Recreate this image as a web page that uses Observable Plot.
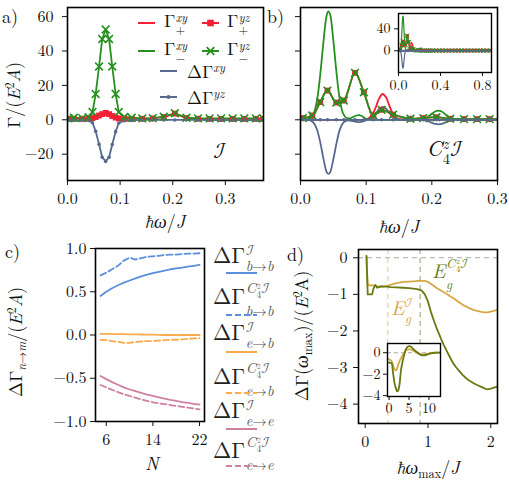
<!DOCTYPE html>
<html><head><meta charset="utf-8">
<script src="https://cdn.jsdelivr.net/npm/d3@7"></script>
<script src="https://cdn.jsdelivr.net/npm/@observablehq/plot@0.6"></script>
<style>
html,body{margin:0;padding:0;background:#fff;}
#root{position:relative;width:509px;height:482px;overflow:hidden;font-family:"Latin Modern Roman","Liberation Serif",serif;color:#111;background:#fff;}
.t{position:absolute;white-space:nowrap;line-height:1;}
.ss{display:inline-flex;flex-direction:column;vertical-align:middle;font-size:0.66em;line-height:1.05;margin-left:0.04em;}
.ss .ss{line-height:0.95;}
.up{margin-bottom:0.3em;}
.cal{font-family:"Latin Modern Math","DejaVu Serif",serif;font-style:normal;}
sup{font-size:0.68em;vertical-align:0.5em;line-height:0;}
sub{font-size:0.68em;vertical-align:-0.3em;line-height:0;}
.sw{position:absolute;overflow:visible;}
</style></head><body><div id="root"></div>
<script>
// ---------- data: panel a (inversion symmetric, I) ----------
const aOmega      = [0.002,0.012,0.028,0.040,0.0475,0.0535,0.060,0.066,0.0725,0.079,0.085,0.0915,0.0975,0.108,0.122,0.142,0.162,0.183,0.204,0.226,0.248,0.270,0.292,0.314,0.336,0.358,0.372];
const aGammaMinus = [0.8,1.2,1.0,1.5,4.5,15,31,47,52.5,47,31,15,4.5,1.6,1.2,0.8,1.0,1.8,3.8,1.2,0.8,0.8,0.8,0.8,0.8,0.8,0.8];
const aGammaPlus  = [0.5,0.6,0.6,0.8,1.0,1.6,2.5,3.3,4.0,3.3,2.2,1.3,0.8,0.6,0.5,0.6,0.8,1.6,3.6,1.0,0.6,0.5,0.5,0.5,0.5,0.5,0.5];
const aDelta      = [-0.15,-0.3,-0.2,-0.35,-1.75,-6.7,-14.2,-21.8,-24.2,-21.8,-14.4,-6.9,-1.85,-0.5,-0.35,-0.1,-0.1,-0.1,-0.1,-0.1,-0.1,-0.15,-0.15,-0.15,-0.15,-0.15,-0.15];
const aXTicks = [0, 0.1, 0.2, 0.3];
const aYTicks = [-20, 0, 20, 40, 60];

// ---------- data: panel b (C4z I), xy curves ----------
const bOmega = [0,0.01,0.015,0.02,0.025,0.03,0.035,0.04,0.0425,0.045,0.05,0.055,0.06,0.065,0.07,0.075,0.08,0.085,0.09,0.095,0.1,0.105,0.11,0.115,0.12,0.125,0.13,0.135,0.14,0.145,0.15,0.16,0.18,0.19,0.195,0.2,0.205,0.21,0.215,0.22,0.225,0.23,0.24,0.26,0.3,0.4,0.5,0.6,0.7,0.8,0.89];
const bGammaMinusXY = [0,0.1,0.85,3.5,11,26,45.5,61,63,61.5,46,26.7,11.3,3.6,1.0,0.8,1.6,2.5,2.7,1.8,0.6,0.1,0,0,0,0,0,0,0,0,0,0,0,0.8,2.0,3.5,4.8,5.3,4.8,3.3,1.8,0.7,0.1,0,0,0,0,0,0,0,0];
const bGammaPlusXY  = [0,0,0,0,0,0,0,0,0,0,0,0,0,0,0,0,0,0,0,0,0.3,1.2,3.5,7.7,12.6,15,13.2,8.5,4,1.4,0.4,0,0,0,0,0,0,0,0,0,0,0,0,0,0,0,0,0,0,0,0];
const bDeltaXY      = [0,-0.05,-0.4,-1.75,-5.5,-13,-22.7,-30.5,-31.5,-30.7,-23,-13.3,-5.6,-1.8,-0.5,-0.4,-0.8,-1.25,-1.35,-0.9,-0.15,0.55,1.75,3.85,6.3,7.5,6.6,4.25,2,0.7,0.2,0,0,-0.4,-1,-1.75,-2.4,-2.65,-2.4,-1.65,-0.9,-0.35,-0.05,0,0,0,0,0,0,0,0];
// panel b, yz curves (markers)
const bMarkOmega = [0.0035,0.018,0.030,0.041,0.0545,0.066,0.083,0.0965,0.111,0.1235,0.141,0.1675,0.187,0.207,0.228,0.249,0.269,0.288,0.308,0.33,0.36,0.39,0.42,0.45,0.48,0.51,0.54,0.57,0.6,0.63,0.66,0.69,0.72,0.75,0.78,0.81,0.84,0.87];
const bGammaYZ   = [1,2.5,10.3,17,10,11.2,27.3,16,2.5,5.8,3,0.6,1.0,1.5,0.6,0.4,0.4,0.4,0.4,0.4,0.4,0.4,0.4,0.4,0.4,0.4,0.4,0.4,0.4,0.4,0.4,0.4,0.4,0.4,0.4,0.4,0.4,0.4];
const bDeltaYZ   = [0,0,0,0,0,0,0,0,0,0,0,0,0,0,0,0,0,0,0,0,0,0,0,0,0,0,0,0,0,0,0,0,0,0,0,0,0,0];
const bXTicks = [0, 0.1, 0.2, 0.3];
const bInsetXTicks = [0, 0.4, 0.8];
const bInsetYTicks = [0, 40];

// ---------- data: panel c ----------
const cN    = [5,6,7,8,9,10,11,12,13,14,15,16,17,18,19,20,21,22];
const cBbI  = [0.45,0.50,0.54,0.575,0.605,0.63,0.655,0.677,0.697,0.715,0.73,0.745,0.76,0.77,0.78,0.79,0.80,0.81];
const cBbC4 = [0.69,0.72,0.76,0.80,0.86,0.895,0.872,0.89,0.905,0.91,0.915,0.925,0.93,0.93,0.935,0.94,0.94,0.945];
const cEbI  = [0.012,0.012,0.011,0.01,0.01,0.008,0.007,0.006,0.005,0.004,0.002,0.0,0.0,-0.002,0.0,0.0,0.0,0.0];
const cEbC4 = [-0.055,-0.06,-0.07,-0.08,-0.09,-0.09,-0.08,-0.075,-0.07,-0.07,-0.065,-0.06,-0.055,-0.055,-0.05,-0.045,-0.04,-0.035];
const cEeI  = [-0.473,-0.51,-0.545,-0.575,-0.605,-0.63,-0.65,-0.67,-0.69,-0.705,-0.72,-0.735,-0.75,-0.762,-0.775,-0.785,-0.795,-0.805];
const cEeC4 = [-0.578,-0.605,-0.635,-0.66,-0.685,-0.705,-0.725,-0.745,-0.762,-0.778,-0.79,-0.80,-0.81,-0.82,-0.83,-0.84,-0.85,-0.86];
const cXTicks = [6, 14, 22];
const cYTicks = [-1, -0.5, 0, 0.5, 1];

// ---------- data: panel d ----------
const dOmega = [0.02,0.03,0.04,0.06,0.09,0.11,0.13,0.16,0.19,0.22,0.26,0.3,0.35,0.4,0.5,0.6,0.7,0.8,0.86,0.9,0.95,1.0,1.05,1.1,1.15,1.2,1.25,1.3,1.35,1.4,1.45,1.5,1.55,1.6,1.65,1.7,1.75,1.8,1.85,1.9,1.95,2.0,2.05,2.11];
const dC4 = [0.05,-0.5,-1.0,-1.0,-1.0,-1.0,-0.85,-0.74,-0.82,-0.80,-0.78,-0.79,-0.79,-0.80,-0.81,-0.82,-0.83,-0.85,-0.87,-0.9,-1.0,-1.2,-1.5,-1.75,-1.98,-2.18,-2.38,-2.55,-2.72,-2.88,-3.0,-3.1,-3.2,-3.28,-3.35,-3.4,-3.45,-3.49,-3.53,-3.57,-3.6,-3.58,-3.55,-3.52];
const dI  = [0.05,-0.4,-0.72,-0.75,-0.76,-0.75,-0.76,-0.77,-0.78,-0.78,-0.78,-0.78,-0.77,-0.74,-0.69,-0.66,-0.65,-0.64,-0.63,-0.63,-0.63,-0.66,-0.72,-0.78,-0.84,-0.89,-0.94,-0.99,-1.05,-1.1,-1.16,-1.22,-1.28,-1.33,-1.37,-1.41,-1.44,-1.46,-1.48,-1.49,-1.49,-1.47,-1.45,-1.42];
const dGapI = [0.36];
const dGapC4 = [0.875];
const dZero = [0];
const dXTicks = [0, 1, 2];
const dYTicks = [-4, -3, -2, -1, 0];
// inset d
const diOmega = [-0.1,0.3,0.6,1.0,1.4,1.7,2.0,2.3,2.6,3.0,3.4,3.8,4.3,5.0,5.5,6.0,7.0,8.0,8.7,9.5,10.5,11.5,12.9];
const diC4 = [-0.9,-0.95,-0.95,-1.9,-2.9,-3.3,-3.6,-3.5,-3.0,-1.6,-0.8,-0.2,0.4,0.62,0.55,0.38,0.05,-0.2,-0.25,-0.18,-0.05,0.0,0.0];
const diI  = [-0.6,-0.68,-0.75,-1.2,-1.55,-1.65,-1.45,-1.1,-0.8,-0.5,-0.25,0.0,0.25,0.32,0.3,0.2,0.0,-0.15,-0.15,-0.1,-0.03,0.0,0.0];
const diXTicks = [0, 5, 10];
const diYTicks = [-4, -2, 0];

// ---------- colours ----------
const RED = "#f81e33", GREEN = "#26901f", SLATE = "#56698e";
const CB = "#5b8fdb", CO = "#fbab4c", CP = "#cf7f9f";
const OLIVE = "#687a10", GOLD = "#d5a843";

const root = document.getElementById("root");
const fmt1 = d3.format(".1f");
const fmtInt = d3.format("d");
const FONT = '"Latin Modern Roman", "Liberation Serif", serif';
const baseStyle = (fs) => ({fontFamily: FONT, fontSize: fs + "px", background: "transparent", overflow: "visible", color: "#111"});
function place(svg, left, top) {
  svg.style.position = "absolute"; svg.style.left = left + "px"; svg.style.top = top + "px";
  root.appendChild(svg);
}
function txt(html, x, y, o = {}) {
  const d = document.createElement("div");
  d.className = "t"; d.innerHTML = html;
  d.style.left = x + "px"; d.style.top = y + "px";
  d.style.fontSize = (o.size || 17) + "px";
  if (o.color) d.style.color = o.color;
  const ax = o.ax === undefined ? -50 : o.ax;
  d.style.transform = `translate(${ax}%, -50%)` + (o.rot ? " rotate(-90deg)" : "");
  root.appendChild(d);
}
function swatch(x, y, w, color, o = {}) {
  const s = document.createElementNS("http://www.w3.org/2000/svg", "svg");
  s.setAttribute("class", "sw"); s.setAttribute("width", w); s.setAttribute("height", 12);
  s.style.left = x + "px"; s.style.top = (y - 6) + "px";
  let h = `<line x1="0" y1="6" x2="${w}" y2="6" stroke="${color}" stroke-width="${o.sw || 2}" ${o.dash ? `stroke-dasharray="${o.dash}"` : ""}/>`;
  const c = w / 2;
  if (o.marker === "square") h += `<rect x="${c-3.3}" y="2.7" width="6.6" height="6.6" fill="${color}"/>`;
  if (o.marker === "x") h += `<path d="M${c-3.8},2.2L${c+3.8},9.8M${c-3.8},9.8L${c+3.8},2.2" stroke="${color}" stroke-width="1.8"/>`;
  if (o.marker === "dot") h += `<circle cx="${c}" cy="6" r="2" fill="${color}"/>`;
  s.innerHTML = h;
  root.appendChild(s);
}

// ---------- panel a ----------
const A = aOmega.map((w, i) => ({w, gp: aGammaPlus[i], gm: aGammaMinus[i], d: aDelta[i]}));
place(Plot.plot({
  width: 270, height: 215, marginLeft: 67, marginRight: 7, marginTop: 7, marginBottom: 35,
  style: baseStyle(16),
  x: {domain: [0, 0.3725]}, y: {domain: [-35.3, 65.3]},
  marks: [
    Plot.axisX({ticks: aXTicks, tickFormat: fmt1, tickSize: 5, tickPadding: 7, label: null}),
    Plot.axisY({ticks: aYTicks, tickFormat: fmtInt, tickSize: 5, tickPadding: 9, label: null}),
    Plot.line(A, {x: "w", y: "gp", stroke: RED, strokeWidth: 1.8, clip: true}),
    Plot.line(A, {x: "w", y: "gm", stroke: GREEN, strokeWidth: 1.8, clip: true}),
    Plot.line(A, {x: "w", y: "d", stroke: SLATE, strokeWidth: 1.8, clip: true}),
    Plot.dot(A, {x: "w", y: "gp", symbol: "square", fill: RED, r: 3.3, clip: true}),
    Plot.dot(A, {x: "w", y: "gm", symbol: "times", stroke: GREEN, strokeWidth: 1.6, r: 3.6, clip: true}),
    Plot.dot(A, {x: "w", y: "d", fill: SLATE, r: 1.8, clip: true}),
    Plot.frame({stroke: "#000", strokeWidth: 1.6})
  ]
}), 0, 0);

// ---------- panel b ----------
const B = bOmega.map((w, i) => ({w, gm: bGammaMinusXY[i], gp: bGammaPlusXY[i], d: bDeltaXY[i]}));
const BM = bMarkOmega.map((w, i) => ({w, g: bGammaYZ[i], d: bDeltaYZ[i]}));
function bMarks(lw, ms) {
  return [
    Plot.line(B, {x: "w", y: "gp", stroke: RED, strokeWidth: lw, curve: "catmull-rom", clip: true}),
    Plot.line(B, {x: "w", y: "gm", stroke: GREEN, strokeWidth: lw, curve: "catmull-rom", clip: true}),
    Plot.line(B, {x: "w", y: "d", stroke: SLATE, strokeWidth: lw, curve: "catmull-rom", clip: true}),
    Plot.line(BM, {x: "w", y: "g", stroke: RED, strokeWidth: lw, curve: "catmull-rom", clip: true}),
    Plot.dot(BM, {x: "w", y: "g", symbol: "square", fill: RED, r: 3.3 * ms, clip: true}),
    Plot.line(BM, {x: "w", y: "g", stroke: GREEN, strokeWidth: lw, curve: "catmull-rom", clip: true}),
    Plot.dot(BM, {x: "w", y: "g", symbol: "times", stroke: GREEN, strokeWidth: 1.6 * ms, r: 3.6 * ms, clip: true}),
    Plot.line(BM, {x: "w", y: "d", stroke: SLATE, strokeWidth: lw, clip: true}),
    Plot.dot(BM, {x: "w", y: "d", fill: SLATE, r: 1.8 * ms, clip: true})
  ];
}
place(Plot.plot({
  width: 239, height: 215, marginLeft: 30, marginRight: 12, marginTop: 7, marginBottom: 35,
  style: baseStyle(16),
  x: {domain: [0, 0.3]}, y: {domain: [-35.3, 65.3]},
  marks: [
    Plot.axisX({ticks: bXTicks, tickFormat: fmt1, tickSize: 5, tickPadding: 7, label: null}),
    Plot.axisY({ticks: aYTicks, tickSize: 5, tickFormat: () => "", label: null}),
    ...bMarks(1.8, 1),
    Plot.frame({stroke: "#000", strokeWidth: 1.6})
  ]
}), 270, 0);

// inset b
place(Plot.plot({
  width: 125, height: 94, marginLeft: 30, marginRight: 2, marginTop: 13, marginBottom: 22,
  style: baseStyle(14),
  x: {domain: [0, 0.886]}, y: {domain: [-39.5, 67.8]},
  marks: [
    Plot.frame({fill: "#fff", stroke: null}),
    Plot.axisX({ticks: bInsetXTicks, tickFormat: fmt1, tickSize: 4, tickPadding: 4, label: null}),
    Plot.axisY({ticks: bInsetYTicks, tickFormat: fmtInt, tickSize: 4, tickPadding: 4, label: null}),
    ...bMarks(1.2, 0.6),
    Plot.frame({stroke: "#000", strokeWidth: 1.4})
  ]
}), 368, 0);

// ---------- panel c ----------
const C = cN.map((n, i) => ({n, bbI: cBbI[i], bbC: cBbC4[i], ebI: cEbI[i], ebC: cEbC4[i], eeI: cEeI[i], eeC: cEeC4[i]}));
place(Plot.plot({
  width: 175, height: 220, marginLeft: 55, marginRight: 11, marginTop: 12, marginBottom: 35,
  style: baseStyle(16),
  x: {domain: [4.15, 22.85]}, y: {domain: [-1, 1]},
  marks: [
    Plot.axisX({ticks: cXTicks, tickFormat: fmtInt, tickSize: 5, tickPadding: 7, label: null}),
    Plot.axisY({ticks: cYTicks, tickFormat: fmt1, tickSize: 5, tickPadding: 4, label: null}),
    Plot.line(C, {x: "n", y: "bbI", stroke: CB, strokeWidth: 1.8}),
    Plot.line(C, {x: "n", y: "bbC", stroke: CB, strokeWidth: 1.8, strokeDasharray: "6,3"}),
    Plot.line(C, {x: "n", y: "ebI", stroke: CO, strokeWidth: 1.8}),
    Plot.line(C, {x: "n", y: "ebC", stroke: CO, strokeWidth: 1.8, strokeDasharray: "6,3"}),
    Plot.line(C, {x: "n", y: "eeI", stroke: CP, strokeWidth: 1.8}),
    Plot.line(C, {x: "n", y: "eeC", stroke: CP, strokeWidth: 1.8, strokeDasharray: "6,3"}),
    Plot.frame({stroke: "#000", strokeWidth: 1.6})
  ]
}), 40, 236);

// ---------- panel d ----------
const D = dOmega.map((w, i) => ({w, c4: dC4[i], i0: dI[i]}));
place(Plot.plot({
  width: 199, height: 222, marginLeft: 48, marginRight: 12, marginTop: 13, marginBottom: 35,
  style: baseStyle(16),
  x: {domain: [-0.107, 2.107]}, y: {domain: [-4.53, 0.226]},
  marks: [
    Plot.axisX({ticks: dXTicks, tickFormat: fmtInt, tickSize: 5, tickPadding: 7, label: null}),
    Plot.axisY({ticks: dYTicks, tickFormat: fmtInt, tickSize: 5, tickPadding: 6, label: null}),
    Plot.ruleY(dZero, {stroke: "#a8a8a8", strokeWidth: 1.2, strokeDasharray: "5,4"}),
    Plot.ruleX(dGapI, {stroke: "#e6d29a", strokeWidth: 1.2, strokeDasharray: "5,4"}),
    Plot.ruleX(dGapC4, {stroke: "#a8ae82", strokeWidth: 1.2, strokeDasharray: "5,4"}),
    Plot.line(D, {x: "w", y: "i0", stroke: GOLD, strokeWidth: 1.8, clip: true}),
    Plot.line(D, {x: "w", y: "c4", stroke: OLIVE, strokeWidth: 1.8, clip: true}),
    Plot.frame({stroke: "#000", strokeWidth: 1.6})
  ]
}), 310, 236);

// inset d
const DI = diOmega.map((w, i) => ({w, c4: diC4[i], i0: diI[i]}));
place(Plot.plot({
  width: 82, height: 80, marginLeft: 27, marginRight: 2, marginTop: 8, marginBottom: 19,
  style: baseStyle(14),
  x: {domain: [-0.4, 12.9]}, y: {domain: [-4.08, 0.86]},
  marks: [
    Plot.frame({fill: "#fff", stroke: null}),
    Plot.axisX({ticks: diXTicks, tickFormat: fmtInt, tickSize: 4, tickPadding: 3, label: null}),
    Plot.axisY({ticks: diYTicks, tickFormat: fmtInt, tickSize: 4, tickPadding: 3, label: null}),
    Plot.ruleY(dZero, {stroke: "#a8a8a8", strokeWidth: 1.1, strokeDasharray: "4,3"}),
    Plot.line(DI, {x: "w", y: "i0", stroke: GOLD, strokeWidth: 1.8, curve: "catmull-rom", clip: true}),
    Plot.line(DI, {x: "w", y: "c4", stroke: OLIVE, strokeWidth: 1.8, curve: "catmull-rom", clip: true}),
    Plot.frame({stroke: "#000", strokeWidth: 1.4})
  ]
}), 360, 335);

// ---------- text ----------
txt("a)", 2, 15.5, {ax: 0, size: 18});
txt("b)", 267, 16, {ax: 0, size: 18});
txt("c)", 5, 251, {ax: 0, size: 18});
txt("d)", 287, 254, {ax: 0, size: 18});
txt('Γ/(<i>E</i><sup>2</sup><i>A</i>)', 12.5, 95, {rot: true, size: 18});
txt('<i>ħω</i>/<i>J</i>', 165, 221, {size: 18});
txt('<i>ħω</i>/<i>J</i>', 399, 226, {size: 18});
txt('<span class="cal">ℐ</span>', 220, 150, {size: 22});
txt('<i>C</i><span class="ss"><i>z</i><span>4</span></span><span class="cal">ℐ</span>', 445, 151, {size: 22});
txt('ΔΓ<sub><i>n</i>→<i>m</i></sub>/(<i>E</i><sup>2</sup><i>A</i>)', 15, 342, {rot: true, size: 18});
txt('<i>N</i>', 152, 463, {size: 18});
txt('ΔΓ(<i>ω</i><sub>max</sub>)/(<i>E</i><sup>2</sup>A)', 301, 336, {rot: true, size: 18});
txt('<i>ħω</i><sub>max</sub>/<i>J</i>', 428, 467, {size: 18});
txt('<i>E</i><span class="ss"><span class="up"><i>C</i><span class="ss"><i>z</i><span>4</span></span><span class="cal">ℐ</span></span><i>g</i></span>', 432, 274, {size: 20, color: OLIVE, ax: 0});
txt('<i>E</i><span class="ss"><span class="cal">ℐ</span><i>g</i></span>', 391, 311, {size: 20, color: GOLD, ax: 0});

// legend a
const lgA = [
  {x: 138, tx: 164, y: 23, color: RED, html: 'Γ<span class="ss"><i>xy</i><span>+</span></span>'},
  {x: 202, tx: 227, y: 23, color: RED, marker: "square", html: 'Γ<span class="ss"><i>yz</i><span>+</span></span>'},
  {x: 138, tx: 164, y: 51, color: GREEN, html: 'Γ<span class="ss"><i>xy</i><span>−</span></span>'},
  {x: 202, tx: 227, y: 51, color: GREEN, marker: "x", html: 'Γ<span class="ss"><i>yz</i><span>−</span></span>'},
  {x: 160, tx: 187, y: 71, color: SLATE, html: 'ΔΓ<sup><i>xy</i></sup>'},
  {x: 160, tx: 187, y: 97, color: SLATE, marker: "dot", html: 'ΔΓ<sup><i>yz</i></sup>'}
];
for (const e of lgA) { swatch(e.x, e.y, 17, e.color, {marker: e.marker}); txt(e.html, e.tx, e.y, {ax: 0, size: 18}); }

// legend c
const supI = '<span class="cal">ℐ</span>';
const supC = '<span class="up"><i>C</i><span class="ss"><i>z</i><span>4</span></span><span class="cal">ℐ</span></span>';
const lgC = [
  {ty: 258, ly: 273, color: CB, sup: supI, sub: '<i>b</i>→<i>b</i>'},
  {ty: 299, ly: 315, color: CB, dash: "6,3", sup: supC, sub: '<i>b</i>→<i>b</i>'},
  {ty: 335, ly: 352, color: CO, sup: supI, sub: '<i>e</i>→<i>b</i>'},
  {ty: 379, ly: 393, color: CO, dash: "6,3", sup: supC, sub: '<i>e</i>→<i>b</i>'},
  {ty: 413, ly: 429, color: CP, sup: supI, sub: '<i>e</i>→<i>e</i>'},
  {ty: 453, ly: 466, color: CP, dash: "6,3", sup: supC, sub: '<i>e</i>→<i>e</i>'}
];
for (const e of lgC) {
  txt(`<span style="color:#222">ΔΓ</span><span class="ss" style="color:#555">${e.sup}<span>${e.sub}</span></span>`, 213, e.ty, {ax: 0, size: 22});
  swatch(226, e.ly, 31, e.color, {dash: e.dash});
}
</script></body></html>
